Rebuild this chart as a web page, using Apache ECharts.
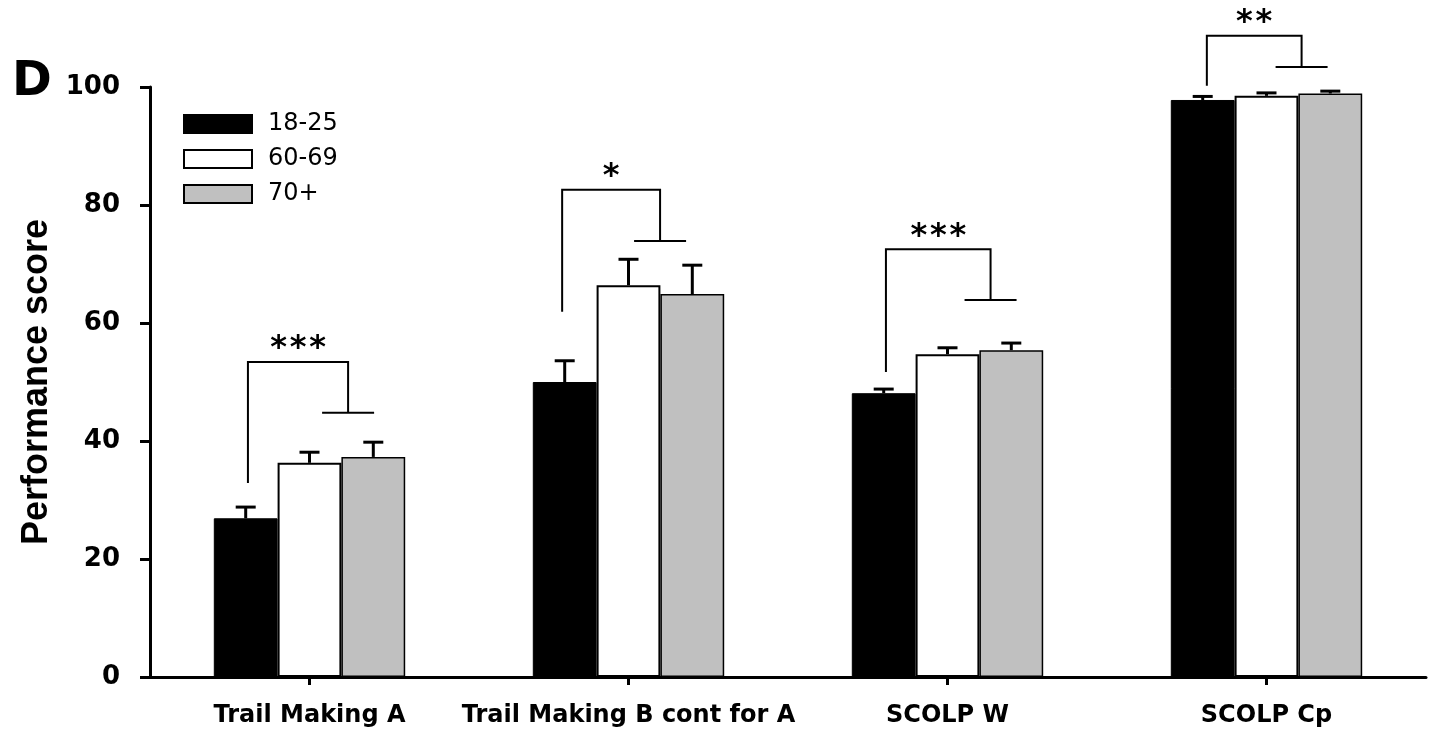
<!DOCTYPE html>
<html>
<head>
<meta charset="utf-8">
<script src="https://cdn.jsdelivr.net/npm/echarts@6/dist/echarts.min.js"></script>
<style>
  html, body { margin: 0; padding: 0; background: #fff; }
  #chart { width: 1436px; height: 731px; }
</style>
</head>
<body>
<div id="chart"></div>
<script>
// Test categories and age groups
const categories = ['Trail Making A', 'Trail Making B cont for A', 'SCOLP W', 'SCOLP Cp'];
const groupNames = ['18-25', '60-69', '70+'];

// Mean performance score per test, one array per age group
const means1825 = [26.9, 50.0, 48.1, 97.8];
const means6069 = [36.3, 66.4, 54.7, 98.5];
const means70 = [37.3, 64.9, 55.4, 98.9];

// Standard error of the mean (upper error bar)
const sem1825 = [1.9, 3.6, 0.7, 0.6];
const sem6069 = [1.8, 4.4, 1.1, 0.5];
const sem70 = [2.5, 4.9, 1.2, 0.4];

// Y axis range
const yMin = 0;
const yMax = 100;
const yStep = 20;

// Significance brackets on a 0..4 scale across the category bands:
// [left x, right x, top y, left end y, right end y]
const brackets = [
  [0.307, 0.621, 53.4, 32.9, 44.8],
  [1.292, 1.599, 82.6, 61.9, 73.9],
  [2.307, 2.635, 72.5, 51.7, 63.9],
  [3.313, 3.610, 108.7, 100.2, 103.4]
];
const sigLabels = ['***', '*', '***', '**'];

const BAR_GAP_RATIO = 0.4;

function barSeries(name, values, fill, borderWidth) {
  return {
    name: name,
    type: 'bar',
    data: values,
    barGap: '0%',
    barCategoryGap: (BAR_GAP_RATIO * 100) + '%',
    itemStyle: { color: fill, borderColor: '#000', borderWidth: borderWidth },
    z: 2,
    silent: true
  };
}

// Upper error bar with a cap, centred on the bar in the given slot (0..2)
function errorSeries(means, sems, slot) {
  return {
    type: 'custom',
    xAxisIndex: 0,
    yAxisIndex: 0,
    z: 5,
    silent: true,
    data: means.map(function (m, i) { return [i, m, sems[i]]; }),
    renderItem: function (params, api) {
      const i = api.value(0), m = api.value(1), e = api.value(2);
      const band = api.size([1, 0])[0];
      const barW = band * (1 - BAR_GAP_RATIO) / 3;
      const base = api.coord([i, m]);
      const x = base[0] + (slot - 1) * barW;
      const yTop = api.coord([i, m + e])[1];
      return {
        type: 'group',
        children: [
          { type: 'line', shape: { x1: x, y1: base[1], x2: x, y2: yTop }, style: { stroke: '#000', lineWidth: 3 } },
          { type: 'line', shape: { x1: x - 10, y1: yTop, x2: x + 10, y2: yTop }, style: { stroke: '#000', lineWidth: 3 } }
        ]
      };
    }
  };
}

const bracketSeries = {
  type: 'custom',
  xAxisIndex: 1,
  yAxisIndex: 0,
  z: 6,
  silent: true,
  clip: false,
  data: brackets,
  encode: { x: [0, 1], y: [2, 3, 4] },
  renderItem: function (params, api) {
    const l = api.value(0), r = api.value(1);
    const top = api.value(2), lb = api.value(3), rb = api.value(4);
    const pL = api.coord([l, top]);
    const pR = api.coord([r, top]);
    const pLb = api.coord([l, lb]);
    const pRb = api.coord([r, rb]);
    const foot = 26;
    const cx = (pL[0] + pR[0]) / 2;
    const label = sigLabels[params.dataIndex];
    const children = [
      { type: 'polyline', shape: { points: [pLb, pL, pR, pRb] }, style: { stroke: '#000', lineWidth: 2, fill: 'none' } },
      { type: 'line', shape: { x1: pRb[0] - foot, y1: pRb[1], x2: pRb[0] + foot, y2: pRb[1] }, style: { stroke: '#000', lineWidth: 2 } }
    ];
    for (let k = 0; k < label.length; k++) {
      children.push({
        type: 'text',
        style: {
          text: label[k],
          x: cx + (k - (label.length - 1) / 2) * 19.5,
          y: pL[1] - 13,
          align: 'center',
          verticalAlign: 'middle',
          font: 'bold 32px "DejaVu Sans"',
          fill: '#000'
        }
      });
    }
    return { type: 'group', children: children };
  }
};

const chart = echarts.init(document.getElementById('chart'), null, { renderer: 'canvas' });

chart.setOption({
  animation: false,
  backgroundColor: '#fff',
  title: {
    text: 'D',
    left: 12,
    top: 59,
    padding: 0,
    textStyle: { fontFamily: 'DejaVu Sans', fontWeight: 'bold', fontSize: 48, color: '#000' }
  },
  legend: {
    data: groupNames,
    orient: 'vertical',
    left: 183,
    top: 112,
    padding: 0,
    itemWidth: 68,
    itemHeight: 18,
    itemGap: 11,
    icon: 'rect',
    selectedMode: false,
    textStyle: { fontFamily: 'DejaVu Sans', fontSize: 24, color: '#000', lineHeight: 18, padding: [0, 0, 0, 11] }
  },
  grid: { left: 150, right: 10, top: 87, bottom: 54, outerBoundsMode: 'none' },
  xAxis: [
    {
      type: 'category',
      data: categories,
      axisLine: { show: true, lineStyle: { color: '#000', width: 3 } },
      axisTick: { show: true, alignWithLabel: true, length: 8, lineStyle: { color: '#000', width: 3 } },
      axisLabel: { interval: 0, margin: 27, fontFamily: 'DejaVu Sans', fontWeight: 'bold', fontSize: 24, color: '#000' },
      splitLine: { show: false }
    },
    { type: 'value', min: 0, max: 4, show: false }
  ],
  yAxis: {
    type: 'value',
    min: yMin,
    max: yMax,
    interval: yStep,
    name: 'Performance score',
    nameLocation: 'middle',
    nameGap: 86,
    nameTextStyle: { fontFamily: 'Liberation Sans', fontWeight: 'bold', fontSize: 36, color: '#000' },
    axisLine: { show: true, lineStyle: { color: '#000', width: 3 } },
    axisTick: { show: true, length: 10, lineStyle: { color: '#000', width: 3 } },
    axisLabel: { margin: 30, fontFamily: 'DejaVu Sans', fontWeight: 'bold', fontSize: 26, color: '#000' },
    splitLine: { show: false }
  },
  series: [
    barSeries(groupNames[0], means1825, '#000000', 1),
    barSeries(groupNames[1], means6069, '#ffffff', 2),
    barSeries(groupNames[2], means70, '#c0c0c0', 1.5),
    errorSeries(means1825, sem1825, 0),
    errorSeries(means6069, sem6069, 1),
    errorSeries(means70, sem70, 2),
    bracketSeries
  ]
});
</script>
</body>
</html>
